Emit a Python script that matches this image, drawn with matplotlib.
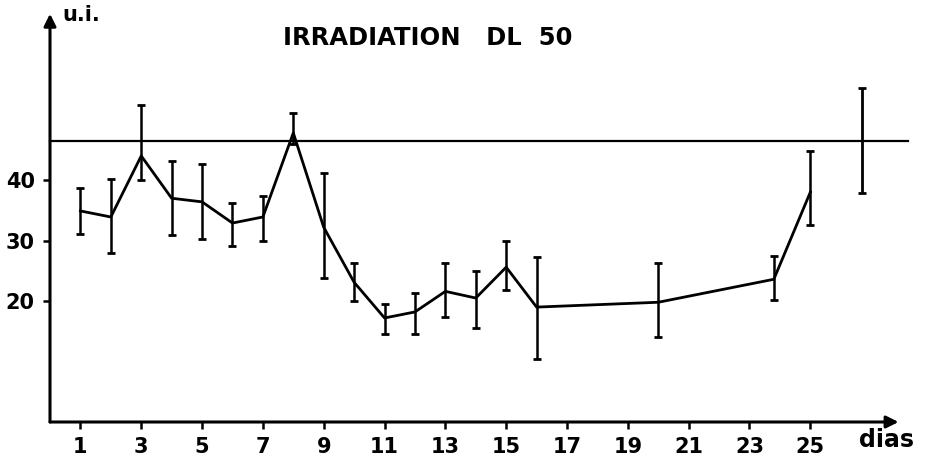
import matplotlib
matplotlib.use('Agg')
import matplotlib.pyplot as plt
import numpy as np

# Values (u.i. vs days after irradiation)
days = [1, 2, 3, 4, 5, 6, 7, 8, 9, 10, 11, 12, 13, 14, 15, 16, 20, 23.8, 25]
values = [34.9, 33.9, 44.0, 37.0, 36.4, 32.9, 33.9, 47.8, 32.2, 23.1, 17.2, 18.2, 21.6, 20.5, 25.6, 19.0, 19.8, 23.6, 38.0]
err_top = [38.7, 40.2, 52.4, 43.1, 42.6, 36.2, 37.4, 51.1, 41.2, 26.3, 19.5, 21.3, 26.3, 25.0, 29.9, 27.3, 26.3, 27.4, 44.8]
err_bot = [31.1, 27.9, 40.0, 30.9, 30.2, 29.1, 29.9, 46.0, 23.8, 20.0, 14.5, 14.5, 17.4, 15.5, 21.8, 10.4, 14.0, 20.2, 32.6]

# control value (separate point on the reference line)
ctrl_day = 26.7
ctrl_value = 46.4
ctrl_top = 55.2
ctrl_bot = 37.9

xticks = list(range(1, 26, 2))
yticks = [20, 30, 40]

FONT = 'DejaVu Sans'

fig = plt.figure(figsize=(9.25, 4.65), dpi=100)
ax = fig.add_axes([50 / 925, 43 / 465, 847 / 925, 407 / 465])
ax.set_xlim(0, 27.85)
ax.set_ylim(0, 67.3)

v = np.array(values)
lo = v - np.array(err_bot)
hi = np.array(err_top) - v
ax.errorbar(days, values, yerr=[lo, hi], color='black', lw=2.0,
            elinewidth=1.8, capsize=3, capthick=2.0, clip_on=False)
ax.errorbar([ctrl_day], [ctrl_value],
            yerr=[[ctrl_value - ctrl_bot], [ctrl_top - ctrl_value]],
            color='black', lw=0, elinewidth=2.0, capsize=3, capthick=2.0,
            clip_on=False)

# reference line
ax.plot([0, 28.2], [ctrl_value, ctrl_value], color='black', lw=1.6, clip_on=False)

# axes drawn as arrows
for s in ax.spines.values():
    s.set_visible(False)
ax.annotate('', xy=(27.9, 0), xytext=(0, 0), xycoords='data',
            arrowprops=dict(arrowstyle='-|>', color='black', lw=2.2,
                            mutation_scale=18, shrinkA=0, shrinkB=0),
            annotation_clip=False)
ax.annotate('', xy=(0, 67.5), xytext=(0, 0), xycoords='data',
            arrowprops=dict(arrowstyle='-|>', color='black', lw=2.2,
                            mutation_scale=18, shrinkA=0, shrinkB=0),
            annotation_clip=False)

ax.set_xticks(xticks)
ax.set_xticklabels([str(t) for t in xticks])
ax.set_yticks(yticks)
ax.set_yticklabels([str(t) for t in yticks])
ax.tick_params(direction='out', length=5, width=1.8, color='black',
               labelsize=15, pad=6)
for lab in ax.get_xticklabels() + ax.get_yticklabels():
    lab.set_fontweight('bold')
    lab.set_family(FONT)

fig.text(428 / 925, 1 - 38 / 465, 'IRRADIATION   DL  50', ha='center', va='center',
         fontsize=17.5, fontweight='bold', family=FONT)
fig.text(62 / 925, 1 - 15 / 465, 'u.i.', ha='left', va='center',
         fontsize=15, fontweight='bold', family=FONT)
fig.text(887 / 925, 1 - 440 / 465, 'dias', ha='center', va='center',
         fontsize=17, fontweight='bold', family=FONT)

fig.savefig('out.png', dpi=100)
